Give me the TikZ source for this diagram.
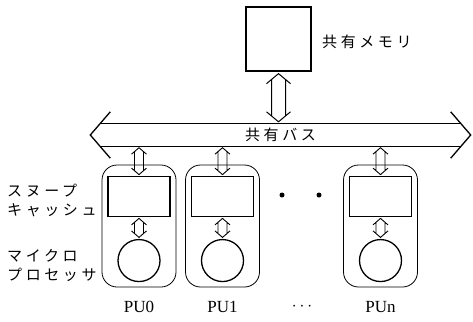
\documentclass[tikz,border=0pt]{standalone}
\usepackage{fontspec}
\setmainfont{Liberation Serif}
\newfontfamily\jpfont[LetterSpace=24]{Noto Sans CJK JP}
\usetikzlibrary{arrows.meta,positioning,calc}

\tikzset{
  membox/.style={draw, line width=1.3pt, minimum width=65pt, minimum height=64pt, inner sep=0pt},
  cachebox/.style={draw, line width=1.3pt, minimum width=62pt, minimum height=40pt, inner sep=0pt},
  unitbox/.style={draw, line width=0.8pt, rounded corners=15pt, minimum width=74pt, minimum height=122pt, inner sep=0pt},
  cpu/.style={draw, circle, line width=1.3pt, minimum size=42pt, inner sep=0pt},
  % hollow double headed arrow: shaft half width, head half width, head length, shaft start
  hollow/.style n args={4}{to path={
    let \p1=(\tikztostart), \p2=(\tikztotarget) in
    (\x1-#2,\y1-#3) -- (\x1,\y1) -- (\x1+#2,\y1-#3)
    (\x1-#2,\y2+#3) -- (\x1,\y2) -- (\x1+#2,\y2+#3)
    (\x1-#1,\y1-#4) -- (\x1-#1,\y2+#4)
    (\x1+#1,\y1-#4) -- (\x1+#1,\y2+#4)
  }},
  link/.style={line width=0.9pt, hollow={4.5pt}{7.5pt}{6.5pt}{3.9pt}},
  biglink/.style={line width=1pt, hollow={7pt}{12pt}{10pt}{5.8pt}},
  busline/.style={line width=1.3pt},
  jplabel/.style={font=\jpfont\fontsize{15pt}{19pt}\selectfont, inner sep=0pt, align=left},
  pulabel/.style={font=\fontsize{17pt}{20pt}\selectfont, inner sep=0pt},
}

\begin{document}
\begin{tikzpicture}[x=1pt,y=-1pt]
\useasboundingbox (0,0) rectangle (473,321);

% shared memory
\node[membox] (mem) at (278.5,39) {};
\node[jplabel, anchor=west] (memlabel) at (322,42) {共有メモリ};

% shared bus
\node[jplabel, minimum width=360pt, minimum height=22pt, align=center] (bus) at (280.5,135) {共有バス};
\draw[busline] (bus.north west) -- (bus.north east);
\draw[busline] (bus.south west) -- (bus.south east);
\draw[busline] ($(bus.north west)+(10,-12)$) -- ($(bus.west)+(-10,0)$) -- ($(bus.south west)+(10,12)$);
\draw[busline] ($(bus.north east)+(-10,-12)$) -- ($(bus.east)+(10,0)$) -- ($(bus.south east)+(-10,12)$);

\draw[biglink] ($(mem.south)+(0,2)$) to ($(mem.south |- bus.north)+(0,-2)$);

% processing units
\foreach \i/\x/\lab in {0/139/PU0, 1/222.5/PU1, n/380.5/PUn}{
  \node[unitbox] (pu\i) at (\x,226) {};
  \node[cachebox, below=11pt of pu\i.north] (cache\i) {};
  \node[cpu, below=22pt of cache\i] (cpu\i) {};
  \node[pulabel] (lab\i) at (\x,307) {\lab};
  \draw[link] ($(bus.south -| cache\i)+(0,1.5)$) to ($(cache\i.north)+(0,-1)$);
  \draw[link] ($(cache\i.south)+(0,1.5)$) to ($(cpu\i.north)+(0,-1.5)$);
}

\fill (282,195) circle (2.5pt);
\fill (319,195) circle (2.5pt);
\node[pulabel] (dots) at (302,307) {$\cdots$};

% labels on the left
\node[jplabel, anchor=west] (snoop) at (7,200.5) {スヌープ\\キャッシュ};
\node[jplabel, anchor=west] (micro) at (7,265.5) {マイクロ\\プロセッサ};

\end{tikzpicture}
\end{document}
